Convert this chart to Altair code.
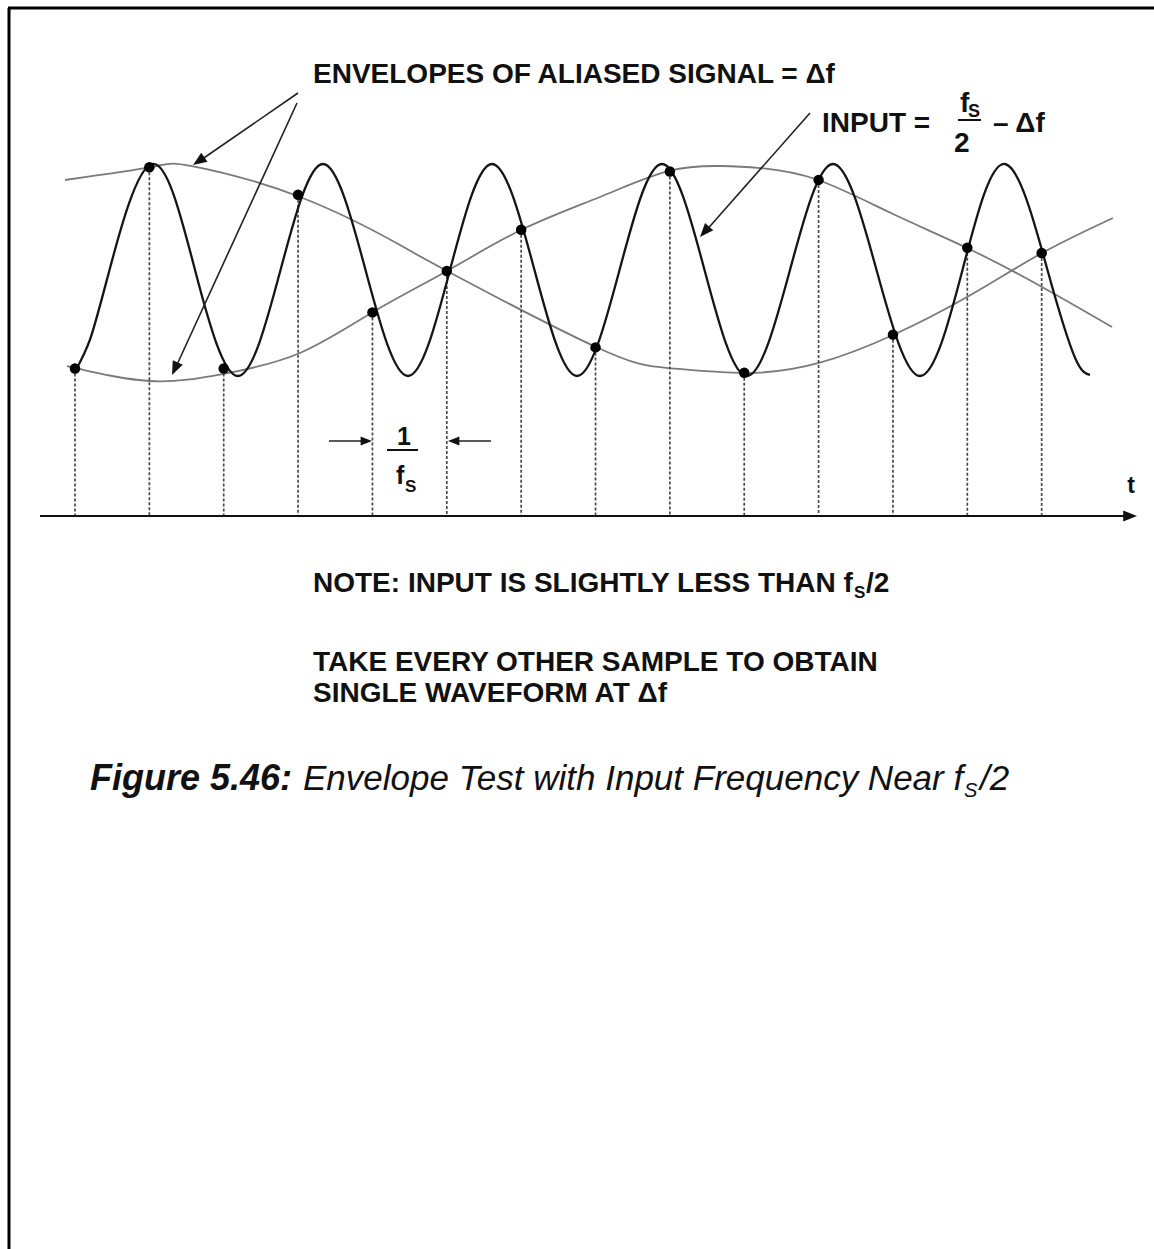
import altair as alt
import pandas as pd

W, H = 1154, 1249
FONT = "Liberation Sans"

# Sample instants in units of the sampling period 1/fs, with the sampled values
sample_t = [0, 1, 2, 3, 4, 5, 6, 7, 8, 9, 10, 11, 12, 13]
sample_v = [-0.93, 0.97, -0.93, 0.71, -0.40, -0.01, 0.38, -0.73, 0.93, -0.97, 0.85, -0.61, 0.21, 0.16]

# Input sinusoid just below fs/2: start, zero crossings, peaks and troughs
wave_t = [0.0, 0.2, 0.464, 1.036, 1.614, 2.192, 2.764, 3.335, 3.907, 4.478, 5.043,
          5.608, 6.179, 6.751, 7.323, 7.894, 8.466, 9.037, 9.615, 10.194, 10.779,
          11.364, 11.935, 12.507, 13.078, 13.45, 13.65]
wave_v = [-0.96, -0.66, 0.0, 1.0, 0.0, -1.0, 0.0, 1.0, 0.0, -1.0, 0.0,
          1.0, 0.0, -1.0, 0.0, 1.0, 0.0, -1.0, 0.0, 1.0, 0.0,
          -1.0, 0.0, 1.0, 0.0, -0.83, -0.99]

# Envelope traced by the odd samples
env_a_t = [-0.134, 1.036, 1.573, 3.026, 4.371, 5.003, 7.006, 7.988, 9.010, 10.005, 11.001, 11.996, 13.004, 13.959]
env_a_v = [0.849, 0.972, 0.981, 0.689, 0.236, -0.009, -0.726, -0.925, -0.972, -0.877, -0.613, -0.255, 0.160, 0.491]

# Envelope traced by the even samples
env_b_t = [-0.108, 1.009, 2.0, 3.026, 4.008, 5.003, 5.998, 7.06, 7.988, 8.674, 9.212, 9.992, 11.001, 11.996, 13.004, 13.946]
env_b_v = [-0.906, -1.047, -0.98, -0.783, -0.396, -0.009, 0.377, 0.689, 0.934, 0.981, 0.962, 0.849, 0.528, 0.208, -0.160, -0.538]

# time axis level (same units as the signal)
AXIS_V = -2.32

# scales: one sample period = 74.36 px, one signal unit = 106 px
X0, DX = 75.0, 74.36
Y0, DY = 270.0, 106.0
xs = alt.Scale(domain=[(0 - X0) / DX, (W - X0) / DX], nice=False, zero=False)
ys = alt.Scale(domain=[(Y0 - H) / DY, Y0 / DY], nice=False, zero=False)

samples = pd.DataFrame({"t": sample_t, "v": sample_v})
wave_df = pd.DataFrame({"t": wave_t, "v": wave_v})
env_df = pd.concat([
    pd.DataFrame({"t": env_a_t, "v": env_a_v, "env": "odd"}),
    pd.DataFrame({"t": env_b_t, "v": env_b_v, "env": "even"}),
])
ONE = pd.DataFrame({"k": [0]})

X = alt.X("t:Q", scale=xs, axis=None)
Y = alt.Y("v:Q", scale=ys, axis=None)

envelopes = alt.Chart(env_df).mark_line(
    interpolate="natural", color="#7a7a7a", strokeWidth=1.8
).encode(x=X, y=Y, detail="env:N")

wave = alt.Chart(wave_df).mark_line(
    interpolate="natural", color="#151515", strokeWidth=2.3
).encode(x=X, y=Y)

drops = alt.Chart(samples).mark_rule(
    color="#4a4a4a", strokeWidth=1.7, strokeDash=[3, 2]
).encode(x=X, y=Y, y2=alt.datum(AXIS_V))

dots = alt.Chart(samples).mark_circle(size=110, color="#000000", opacity=1).encode(x=X, y=Y)

HEAD = "M0,0L-0.4,1L0.4,1Z"


def seg(x1, y1, x2, y2, width=1.6, color="#222222"):
    return alt.Chart(ONE).mark_rule(color=color, strokeWidth=width).encode(
        x=alt.value(x1), y=alt.value(y1), x2=alt.value(x2), y2=alt.value(y2))


def head(x, y, angle, size=760):
    return alt.Chart(ONE).mark_point(
        shape=HEAD, filled=True, size=size, angle=angle, color="#111111", opacity=1, strokeWidth=0
    ).encode(x=alt.value(x), y=alt.value(y))


def label(txt, x, y, size=28, weight="bold", style="normal", align="left"):
    return alt.Chart(ONE).mark_text(
        text=txt, align=align, baseline="alphabetic", font=FONT, fontSize=size,
        fontWeight=weight, fontStyle=style, color="#111111"
    ).encode(x=alt.value(x), y=alt.value(y))


layers = [
    # frame
    seg(8, 8, W, 8, width=3, color="#000000"),
    seg(9, 8, 9, H, width=3, color="#000000"),
    envelopes,
    drops,
    wave,
    dots,
    # time axis with arrow
    seg(40, 516, 1126, 516, width=2, color="#111111"),
    head(1137, 516, 90, size=760),
    label("t", 1131, 493, size=23, align="center"),
    # envelope callout
    label("ENVELOPES OF ALIASED SIGNAL = \u0394f", 313, 83),
    seg(298, 93, 198, 162),
    head(193, 165, 235.5),
    seg(297, 103, 175, 369),
    head(172, 375, 204.7),
    # input callout
    label("INPUT =", 822, 132),
    label("f", 960, 112),
    label("S", 968, 117, size=18),
    seg(958, 120, 981, 120, width=2, color="#111111"),
    label("2", 954, 152),
    label("\u2013 \u0394f", 993, 132),
    seg(810, 113, 704, 233),
    head(700, 237, 221.6),
    # sample period marker
    seg(329, 441, 362, 441),
    head(372, 441, 90, size=520),
    seg(458, 441, 491, 441),
    head(448, 441, 270, size=520),
    label("1", 404, 445, size=25, align="center"),
    seg(387, 450, 418, 450, width=2, color="#111111"),
    label("f", 396, 484, size=25),
    label("S", 405, 492, size=17),
    # notes
    label("NOTE: INPUT IS SLIGHTLY LESS THAN f", 313, 592),
    label("S", 854, 598, size=17),
    label("/2", 866, 592),
    label("TAKE EVERY OTHER SAMPLE TO OBTAIN", 313, 671),
    label("SINGLE WAVEFORM AT \u0394f", 313, 702),
    # caption
    label("Figure 5.46:", 90, 790, size=36, weight="bold", style="italic"),
    label("Envelope Test with Input Frequency Near f", 303, 790, size=35, weight="normal", style="italic"),
    label("S", 964, 797, size=20, weight="normal", style="italic"),
    label("/2", 980, 790, size=35, weight="normal", style="italic"),
]

chart = alt.layer(*layers).properties(
    width=W, height=H, padding=0,
    autosize=alt.AutoSizeParams(type="none"),
    background="white",
).configure_view(stroke=None)

chart.save("out.html", embed_options={"renderer": "svg", "actions": False})
